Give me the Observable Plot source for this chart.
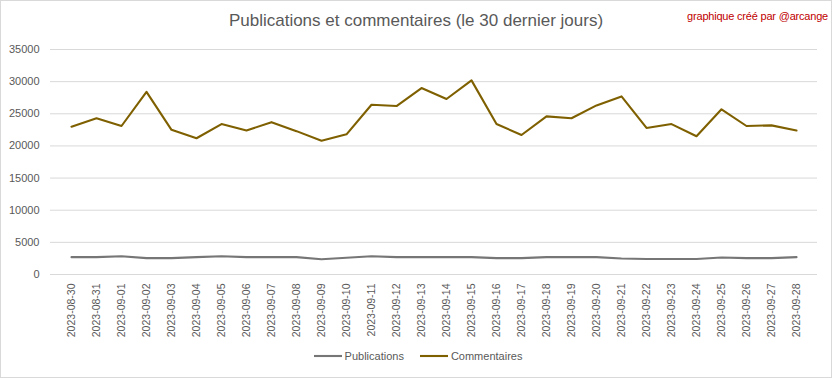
<!DOCTYPE html>
<html>
<head>
<meta charset="utf-8">
<script src="https://cdn.jsdelivr.net/npm/d3@7"></script>
<script src="https://cdn.jsdelivr.net/npm/@observablehq/plot@0.6"></script>
<style>
  html, body { margin: 0; padding: 0; background: #fff; }
  #frame { position: relative; width: 830px; height: 376px; border: 1px solid #d9d9d9; background: #fff; font-family: "Liberation Sans", "DejaVu Sans", sans-serif; overflow: hidden; }
  #title { position: absolute; left: 0; width: 830px; top: 10px; text-align: center; font-size: 17px; color: #595959; }
  #credit { position: absolute; right: 3px; top: 9px; font-size: 11px; letter-spacing: -0.2px; color: #c00000; }
  #chart { position: absolute; left: 0; top: 39px; }
  #legend { position: absolute; left: 2px; width: 830px; top: 349px; text-align: center; font-size: 11px; color: #595959; }
  #legend span.item { display: inline-flex; align-items: center; margin: 0 8px; }
  #legend svg { margin-right: 3px; }
</style>
</head>
<body>
<div id="frame">
  <div id="title">Publications et commentaires (le 30 dernier jours)</div>
  <div id="credit">graphique créé par @arcange</div>
  <div id="chart"></div>
  <div id="legend"></div>
</div>
<script>
const dates = [
  "2023-08-30","2023-08-31","2023-09-01","2023-09-02","2023-09-03","2023-09-04","2023-09-05","2023-09-06","2023-09-07","2023-09-08",
  "2023-09-09","2023-09-10","2023-09-11","2023-09-12","2023-09-13","2023-09-14","2023-09-15","2023-09-16","2023-09-17","2023-09-18",
  "2023-09-19","2023-09-20","2023-09-21","2023-09-22","2023-09-23","2023-09-24","2023-09-25","2023-09-26","2023-09-27","2023-09-28"
];
const publications = [
  2700, 2700, 2850, 2550, 2550, 2700, 2850, 2700, 2700, 2700,
  2380, 2600, 2850, 2700, 2700, 2700, 2700, 2550, 2550, 2700,
  2700, 2700, 2500, 2400, 2400, 2400, 2650, 2550, 2550, 2700
];
const commentaires = [
  23000, 24300, 23100, 28400, 22500, 21200, 23400, 22400, 23700, 22300,
  20800, 21800, 26400, 26200, 29000, 27300, 30200, 23400, 21700, 24600,
  24300, 26300, 27700, 22800, 23400, 21500, 25700, 23100, 23200, 22400
];
const seriesNames = ["Publications", "Commentaires"];
const seriesColors = ["#767676", "#7f6000"];
const yTicks = [0, 5000, 10000, 15000, 20000, 25000, 30000, 35000];

const rowsPub = dates.map((d, i) => ({date: d, value: publications[i]}));
const rowsCom = dates.map((d, i) => ({date: d, value: commentaires[i]}));

const chart = Plot.plot({
  width: 830,
  height: 300,
  marginTop: 9,
  marginBottom: 66,
  marginLeft: 49,
  marginRight: 14,
  style: {fontFamily: "Liberation Sans, DejaVu Sans, sans-serif", fontSize: "11px", color: "#595959", background: "transparent"},
  x: {type: "point", domain: dates, padding: 0.5, label: null},
  y: {domain: [0, 35000], label: null},
  marks: [
    Plot.gridY(yTicks, {stroke: "#d9d9d9", strokeOpacity: 1, strokeWidth: 1}),
    Plot.axisY(yTicks, {tickSize: 0, tickPadding: 11, tickFormat: d => String(d), fill: "#595959", label: null}),
    Plot.axisX({tickSize: 0, tickPadding: 9, tickRotate: -90, fill: "#595959", fontSize: 10.5, label: null}),
    Plot.line(rowsPub, {x: "date", y: "value", stroke: seriesColors[0], strokeWidth: 2.1}),
    Plot.line(rowsCom, {x: "date", y: "value", stroke: seriesColors[1], strokeWidth: 2.1})
  ]
});
document.getElementById("chart").appendChild(chart);

const legend = document.getElementById("legend");
seriesNames.forEach((name, i) => {
  const item = document.createElement("span");
  item.className = "item";
  item.innerHTML = `<svg width="28" height="8"><line x1="0" y1="4" x2="28" y2="4" stroke="${seriesColors[i]}" stroke-width="2.1"/></svg>${name}`;
  legend.appendChild(item);
});
</script>
</body>
</html>
